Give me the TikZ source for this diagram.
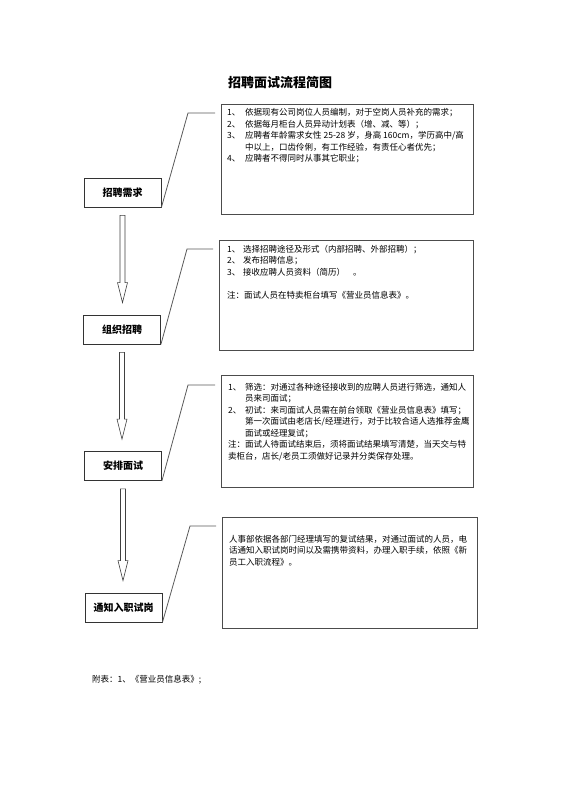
\documentclass[tikz,border=0pt]{standalone}
\usepackage{fontspec}
\setmainfont{Noto Sans CJK SC}
\usetikzlibrary{positioning, calc}
\begin{document}
\begin{tikzpicture}[x=1pt,y=-1pt,
stepbox/.style={draw=black!80,line width=0.8pt,minimum width=77pt,minimum height=29pt,inner sep=0pt,font=\fontsize{10}{12}\selectfont\bfseries},
notebox/.style={draw=black!70,line width=0.8pt,anchor=north west,inner sep=0pt},
notetext/.style={anchor=north west,inner sep=0pt,align=left,font=\fontsize{8.5}{11.5}\selectfont},
callout/.style={draw=black!65,line width=0.8pt,shorten >=6pt},
hollow/.style={draw=black!75,line width=0.6pt,fill=white}]
\useasboundingbox (0,0) rectangle (560,792);
\node[font=\fontsize{13}{15}\selectfont\bfseries] (title) at (280,83) {招聘面试流程简图};
% steps
\node[stepbox] (req) at (122.5,192.5) {招聘需求};
\node[stepbox] (org) at (122,329.5) {组织招聘};
\node[stepbox] (arr) at (123,466) {安排面试};
\node[stepbox] (inf) at (123.5,607.5) {通知入职试岗};
% notes
\node[notebox,minimum width=252pt,minimum height=110pt] (req-note) at (221,104) {};
\node[notebox,minimum width=254pt,minimum height=110pt] (org-note) at (219,240) {};
\node[notebox,minimum width=252pt,minimum height=112pt] (arr-note) at (221,375) {};
\node[notebox,minimum width=255pt,minimum height=111pt] (inf-note) at (222,517) {};
\node[notetext] (req-text) at (227,108.4) {\makebox[18pt][l]{1、}依据现有公司岗位人员编制，对于空岗人员补充的需求；\\
\makebox[18pt][l]{2、}依据每月柜台人员异动计划表（增、减、等）；\\
\makebox[18pt][l]{3、}应聘者年龄需求女性 25-28 岁，身高 160cm，学历高中/高\\
\hspace*{18pt}中以上，口齿伶俐，有工作经验，有责任心者优先；\\
\makebox[18pt][l]{4、}应聘者不得同时从事其它职业；};
\node[notetext] (org-text) at (227,244.7) {\makebox[16pt][l]{1、}选择招聘途径及形式（内部招聘、外部招聘）；\\
\makebox[16pt][l]{2、}发布招聘信息；\\
\makebox[16pt][l]{3、}接收应聘人员资料（简历）\hspace{8pt}。\\[11.5pt]
注：面试人员在特卖柜台填写《营业员信息表》。};
\node[notetext] (arr-text) at (228,382.7) {\makebox[17pt][l]{1、}筛选：对通过各种途径接收到的应聘人员进行筛选，通知人\\
\hspace*{17pt}员来司面试；\\
\makebox[17pt][l]{2、}初试：来司面试人员需在前台领取《营业员信息表》填写；\\
\hspace*{17pt}第一次面试由老店长/经理进行，对于比较合适人选推荐金鹰\\
\hspace*{17pt}面试或经理复试；\\
注：面试人待面试结束后，须将面试结果填写清楚，当天交与特\\
卖柜台，店长/老员工须做好记录并分类保存处理。};
\node[notetext] (inf-text) at (229,534.7) {人事部依据各部门经理填写的复试结果，对通过面试的人员，电\\
话通知入职试岗时间以及需携带资料，办理入职手续，依照《新\\
员工入职流程》。};
% callouts
\coordinate (req-knee) at (188,113);
\coordinate (org-knee) at (187,249);
\coordinate (arr-knee) at (188,385);
\coordinate (inf-knee) at (190,526);
\foreach \n in {req,org,arr,inf}
\draw[callout] (\n.south east) -- (\n-knee) -- (\n-knee -| \n-note.west);
% hollow arrows
\foreach \a/\b in {req/org, org/arr, arr/inf}
\draw[hollow] let \p1=([yshift=-8pt]\a.south), \p2=([yshift=12pt]\b.north) in
(\x1-2.5pt,\y1) -- (\x1-2.5pt,\y2+20pt) -- (\x1-5pt,\y2+20pt) -- (\x1,\y2)
-- (\x1+5pt,\y2+20pt) -- (\x1+2.5pt,\y2+20pt) -- (\x1+2.5pt,\y1) -- cycle;
\node[anchor=west,inner sep=0pt,font=\fontsize{8.5}{10}\selectfont] (appendix) at (92,680) {附表：1、《营业员信息表》;};
\end{tikzpicture}
\end{document}
